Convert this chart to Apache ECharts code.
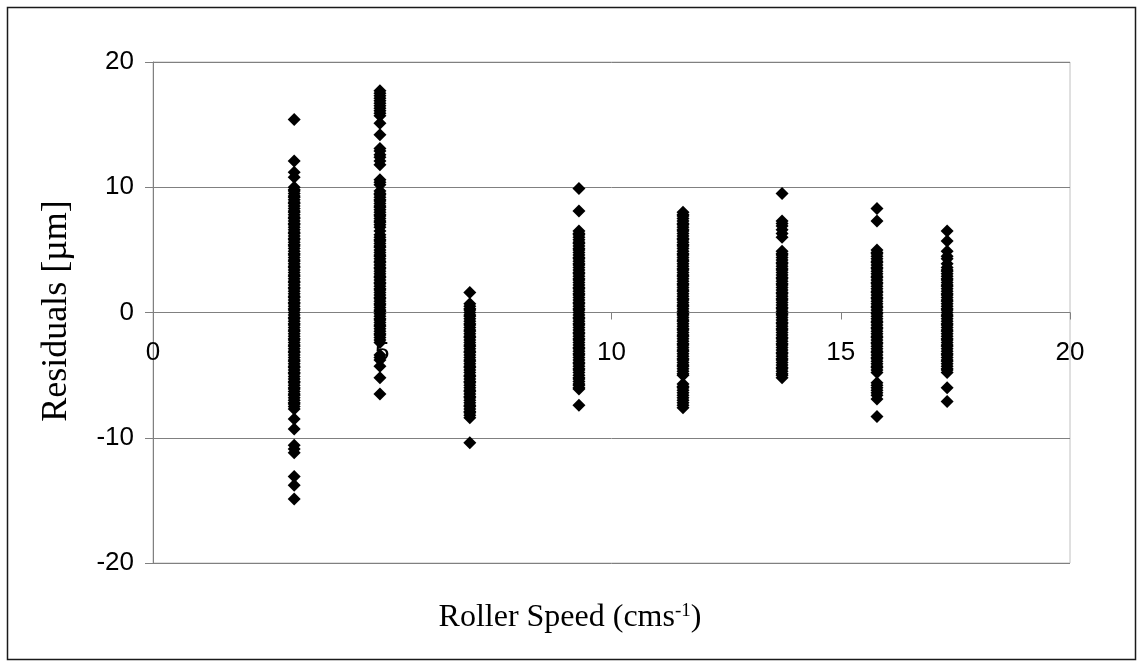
<!DOCTYPE html>
<html>
<head>
<meta charset="utf-8">
<script src="https://cdn.jsdelivr.net/npm/echarts@6/dist/echarts.min.js"></script>
<style>
  html, body { margin: 0; padding: 0; background: #fff; }
  #chart { width: 1143px; height: 666px; }
</style>
</head>
<body>
<div id="chart"></div>
<script>
// Roller speeds (cm/s) at which residuals were recorded
const speeds = [3.08, 4.95, 6.91, 9.29, 11.56, 13.72, 15.79, 17.32];

// Residuals (µm) for each roller speed
const res308 = [15.4, 12.1, 11.2, 10.8, 10.0, 9.8, 9.7, 9.5, 9.3, 9.2, 9.0, 8.8, 8.7, 8.5, 8.3, 8.1, 8.0, 7.8, 7.6, 7.5, 7.3, 7.1, 7.0, 6.8, 6.6, 6.4, 6.3, 6.1, 5.9, 5.8, 5.6, 5.4, 5.3, 5.1, 4.9, 4.7, 4.6, 4.4, 4.2, 4.1, 3.9, 3.7, 3.6, 3.4, 3.2, 3.0, 2.9, 2.7, 2.5, 2.4, 2.2, 2.0, 1.9, 1.7, 1.5, 1.3, 1.2, 1.0, 0.8, 0.7, 0.5, 0.3, 0.2, 0.0, -0.2, -0.4, -0.5, -0.7, -0.9, -1.0, -1.2, -1.4, -1.5, -1.7, -1.9, -2.1, -2.2, -2.4, -2.6, -2.7, -2.9, -3.1, -3.2, -3.4, -3.6, -3.8, -3.9, -4.1, -4.3, -4.4, -4.6, -4.8, -4.9, -5.1, -5.3, -5.5, -5.6, -5.8, -6.0, -6.1, -6.3, -6.5, -6.6, -6.8, -7.0, -7.2, -7.3, -7.5, -7.7, -8.5, -9.3, -10.6, -10.9, -11.2, -13.1, -13.8, -14.9];
const res495 = [17.7, 17.5, 17.3, 17.1, 16.9, 16.7, 16.5, 16.3, 16.1, 15.9, 15.7, 15.1, 14.2, 13.1, 12.9, 12.6, 12.4, 12.1, 11.8, 10.6, 10.4, 10.2, 9.7, 9.5, 9.4, 9.2, 9.0, 8.9, 8.7, 8.5, 8.4, 8.2, 8.0, 7.8, 7.7, 7.5, 7.3, 7.2, 7.0, 6.8, 6.5, 6.2, 6.0, 5.8, 5.7, 5.5, 5.3, 5.2, 5.0, 4.8, 4.6, 4.5, 4.3, 4.1, 4.0, 3.8, 3.6, 3.5, 3.3, 3.1, 2.9, 2.8, 2.6, 2.4, 2.3, 2.1, 1.9, 1.8, 1.6, 1.4, 1.2, 1.1, 0.9, 0.7, 0.6, 0.4, 0.2, 0.1, -0.1, -0.3, -0.5, -0.6, -0.8, -1.0, -1.1, -1.3, -1.5, -1.7, -1.8, -2.0, -2.2, -2.4, -3.4, -3.6, -3.8, -4.3, -5.2, -6.5];
const res691 = [1.6, 0.7, 0.5, 0.3, 0.2, 0.0, -0.2, -0.3, -0.5, -0.7, -0.9, -1.0, -1.2, -1.4, -1.5, -1.7, -1.9, -2.0, -2.2, -2.4, -2.6, -2.7, -2.9, -3.1, -3.2, -3.4, -3.6, -3.8, -3.9, -4.1, -4.3, -4.4, -4.6, -4.8, -5.0, -5.1, -5.3, -5.5, -5.6, -5.8, -6.0, -6.2, -6.3, -6.5, -6.7, -6.8, -7.0, -7.2, -7.4, -7.5, -7.7, -7.9, -8.0, -8.2, -8.4, -10.4];
const res929 = [9.9, 8.1, 6.5, 6.3, 6.2, 6.0, 5.8, 5.6, 5.5, 5.3, 5.1, 5.0, 4.8, 4.6, 4.4, 4.3, 4.1, 3.9, 3.8, 3.6, 3.4, 3.2, 3.1, 2.9, 2.7, 2.6, 2.4, 2.2, 2.0, 1.9, 1.7, 1.5, 1.4, 1.2, 1.0, 0.8, 0.7, 0.5, 0.3, 0.2, 0.0, -0.2, -0.4, -0.5, -0.7, -0.9, -1.0, -1.2, -1.4, -1.6, -1.7, -1.9, -2.1, -2.2, -2.4, -2.6, -2.8, -2.9, -3.1, -3.3, -3.4, -3.6, -3.8, -4.0, -4.1, -4.3, -4.5, -4.6, -4.8, -5.0, -5.2, -5.3, -5.5, -5.7, -5.8, -6.0, -6.1, -7.4];
const res1156 = [8.0, 7.8, 7.7, 7.5, 7.3, 7.1, 7.0, 6.8, 6.6, 6.5, 6.3, 6.1, 5.9, 5.8, 5.6, 5.4, 5.3, 5.1, 4.9, 4.7, 4.6, 4.4, 4.2, 4.1, 3.9, 3.7, 3.5, 3.4, 3.2, 3.0, 2.9, 2.7, 2.5, 2.3, 2.2, 2.0, 1.8, 1.7, 1.5, 1.3, 1.1, 1.0, 0.8, 0.6, 0.5, 0.3, 0.1, -0.1, -0.2, -0.4, -0.6, -0.7, -0.9, -1.1, -1.3, -1.4, -1.6, -1.8, -1.9, -2.1, -2.3, -2.5, -2.6, -2.8, -3.0, -3.1, -3.3, -3.5, -3.7, -3.8, -4.0, -4.2, -4.3, -4.5, -4.7, -4.9, -5.0, -5.7, -5.9, -6.0, -6.2, -6.4, -6.6, -6.8, -7.0, -7.2, -7.4, -7.6];
const res1372 = [9.5, 7.3, 7.1, 6.9, 6.6, 6.3, 6.0, 4.9, 4.7, 4.6, 4.4, 4.2, 4.0, 3.9, 3.7, 3.5, 3.4, 3.2, 3.0, 2.8, 2.7, 2.5, 2.3, 2.2, 2.0, 1.8, 1.6, 1.5, 1.3, 1.1, 1.0, 0.8, 0.6, 0.4, 0.3, 0.1, -0.1, -0.2, -0.4, -0.6, -0.8, -0.9, -1.1, -1.3, -1.4, -1.6, -1.8, -2.0, -2.1, -2.3, -2.5, -2.6, -2.8, -3.0, -3.2, -3.3, -3.5, -3.7, -3.8, -4.0, -4.2, -4.4, -4.5, -4.7, -4.9, -5.0, -5.2];
const res1579 = [8.3, 7.3, 5.0, 4.8, 4.7, 4.5, 4.3, 4.1, 4.0, 3.8, 3.6, 3.5, 3.3, 3.1, 2.9, 2.8, 2.6, 2.4, 2.3, 2.1, 1.9, 1.7, 1.6, 1.4, 1.2, 1.1, 0.9, 0.7, 0.5, 0.4, 0.2, 0.0, -0.1, -0.3, -0.5, -0.7, -0.8, -1.0, -1.2, -1.3, -1.5, -1.7, -1.9, -2.0, -2.2, -2.4, -2.5, -2.7, -2.9, -3.1, -3.2, -3.4, -3.6, -3.7, -3.9, -4.1, -4.3, -4.4, -4.6, -4.8, -5.6, -5.8, -6.0, -6.2, -6.4, -6.6, -6.9, -8.3];
const res1732 = [6.5, 5.7, 4.9, 4.5, 4.3, 3.9, 3.6, 3.4, 3.3, 3.1, 2.9, 2.7, 2.6, 2.4, 2.2, 2.1, 1.9, 1.7, 1.5, 1.4, 1.2, 1.0, 0.9, 0.7, 0.5, 0.3, 0.2, 0.0, -0.2, -0.3, -0.5, -0.7, -0.9, -1.0, -1.2, -1.4, -1.5, -1.7, -1.9, -2.1, -2.2, -2.4, -2.6, -2.7, -2.9, -3.1, -3.3, -3.4, -3.6, -3.8, -3.9, -4.1, -4.3, -4.5, -4.6, -4.8, -6.0, -7.1];

const residualSets = [res308, res495, res691, res929, res1156, res1372, res1579, res1732];

// Axis ticks
const xTicks = [0, 5, 10, 15, 20];
const yTicks = [-20, -10, 0, 10, 20];

// Pair every residual with its roller speed
const points = [];
residualSets.forEach((set, i) => {
  set.forEach(v => points.push([speeds[i], v]));
});

const chart = echarts.init(document.getElementById('chart'), null, { renderer: 'canvas' });

chart.setOption({
  animation: false,
  backgroundColor: '#ffffff',
  grid: {
    left: 153, right: 73, top: 62, bottom: 103,
    show: true, borderColor: '#c0c0c0', borderWidth: 1, backgroundColor: 'transparent'
  },
  xAxis: {
    type: 'value',
    min: xTicks[0], max: xTicks[xTicks.length - 1], interval: 5,
    axisLine: { show: true, onZero: true, lineStyle: { color: '#808080', width: 1 } },
    axisTick: { show: true, inside: false, length: 7, lineStyle: { color: '#808080' } },
    // tick labels sit just under the zero line that the x axis is drawn on
    axisLabel: { color: '#000', fontFamily: 'Liberation Sans, Arial, sans-serif', fontSize: 26, margin: -223 },
    splitLine: { show: false }
  },
  yAxis: {
    type: 'value',
    min: yTicks[0], max: yTicks[yTicks.length - 1], interval: 10,
    axisLine: { show: true, onZero: false, lineStyle: { color: '#808080', width: 1 } },
    axisTick: { show: true, inside: false, length: 8, lineStyle: { color: '#808080' } },
    axisLabel: { color: '#000', fontFamily: 'Liberation Sans, Arial, sans-serif', fontSize: 26, margin: 19 },
    splitLine: { show: true, lineStyle: { color: '#808080', width: 1 } }
  },
  series: [{
    type: 'scatter',
    data: points,
    symbol: 'diamond',
    symbolSize: 13,
    itemStyle: { color: '#000', opacity: 1 },
    silent: true
  }],
  graphic: [
    {
      type: 'rect',
      shape: { x: 7.5, y: 7.5, width: 1128, height: 652 },
      style: { fill: 'none', stroke: '#1a1a1a', lineWidth: 1.5 },
      silent: true
    },
    {
      type: 'text',
      x: 570, y: 618,
      style: {
        text: '{t|Roller Speed (cms}{s|-1}{t|)}',
        align: 'center', verticalAlign: 'middle',
        rich: {
          t: { fontFamily: 'Liberation Serif, Times New Roman, serif', fontSize: 32, fill: '#000', verticalAlign: 'bottom' },
          s: { fontFamily: 'Liberation Serif, Times New Roman, serif', fontSize: 19, fill: '#000', verticalAlign: 'top' }
        }
      },
      silent: true
    },
    {
      type: 'text',
      x: 57, y: 311,
      rotation: Math.PI / 2,
      style: {
        text: 'Residuals [µm]',
        align: 'center', verticalAlign: 'middle',
        fontFamily: 'Liberation Serif, Times New Roman, serif', fontSize: 36, fill: '#000'
      },
      silent: true
    }
  ]
});
</script>
</body>
</html>
